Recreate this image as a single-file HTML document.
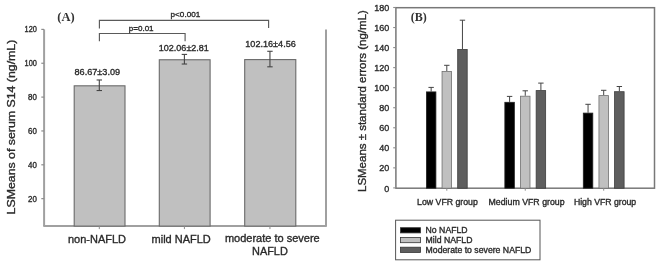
<!DOCTYPE html>
<html><head><meta charset="utf-8"><style>
html,body{margin:0;padding:0;background:#fff;width:660px;height:267px;overflow:hidden}
svg{display:block;font-family:"Liberation Sans",sans-serif;filter:blur(0.5px)}
text{stroke:#2a2a2a;stroke-width:0.35px}
</style></head><body>
<svg width="660" height="267" viewBox="0 0 660 267">
<rect width="660" height="267" fill="#fff"/>
<line x1="44.1" y1="29.40" x2="44.1" y2="226.1" stroke="#a0a0a0" stroke-width="2"/>
<line x1="43.3" y1="226.1" x2="326.8" y2="226.1" stroke="#a0a0a0" stroke-width="2"/>
<line x1="326" y1="29.40" x2="326" y2="226.1" stroke="#a0a0a0" stroke-width="2"/>
<line x1="41.3" y1="198.65" x2="44.1" y2="198.65" stroke="#8c8c8c" stroke-width="1.2"/>
<text x="28.10" y="201.55" font-size="8.2" fill="#2a2a2a" textLength="8.8" lengthAdjust="spacingAndGlyphs">20</text>
<line x1="41.3" y1="164.80" x2="44.1" y2="164.80" stroke="#8c8c8c" stroke-width="1.2"/>
<text x="28.10" y="167.70" font-size="8.2" fill="#2a2a2a" textLength="8.8" lengthAdjust="spacingAndGlyphs">40</text>
<line x1="41.3" y1="130.95" x2="44.1" y2="130.95" stroke="#8c8c8c" stroke-width="1.2"/>
<text x="28.10" y="133.85" font-size="8.2" fill="#2a2a2a" textLength="8.8" lengthAdjust="spacingAndGlyphs">60</text>
<line x1="41.3" y1="97.10" x2="44.1" y2="97.10" stroke="#8c8c8c" stroke-width="1.2"/>
<text x="28.10" y="100.00" font-size="8.2" fill="#2a2a2a" textLength="8.8" lengthAdjust="spacingAndGlyphs">80</text>
<line x1="41.3" y1="63.25" x2="44.1" y2="63.25" stroke="#8c8c8c" stroke-width="1.2"/>
<text x="24.60" y="66.15" font-size="8.2" fill="#2a2a2a" textLength="12.3" lengthAdjust="spacingAndGlyphs">100</text>
<line x1="41.3" y1="29.40" x2="44.1" y2="29.40" stroke="#8c8c8c" stroke-width="1.2"/>
<text x="24.60" y="32.30" font-size="8.2" fill="#2a2a2a" textLength="12.3" lengthAdjust="spacingAndGlyphs">120</text>
<rect x="74.2" y="85.81" width="50.8" height="140.29" fill="#c0c0c0" stroke="#6a6a6a" stroke-width="1.1"/>
<line x1="99.30" y1="79.98" x2="99.30" y2="90.54" stroke="#444" stroke-width="1.1"/>
<line x1="96.60" y1="79.98" x2="102.00" y2="79.98" stroke="#444" stroke-width="1.1"/>
<line x1="96.60" y1="90.54" x2="102.00" y2="90.54" stroke="#444" stroke-width="1.1"/>
<line x1="99.30" y1="226.1" x2="99.30" y2="229.1" stroke="#8c8c8c" stroke-width="1"/>
<rect x="159.3" y="59.76" width="50.8" height="166.34" fill="#c0c0c0" stroke="#6a6a6a" stroke-width="1.1"/>
<line x1="184.40" y1="54.41" x2="184.40" y2="64.02" stroke="#444" stroke-width="1.1"/>
<line x1="181.70" y1="54.41" x2="187.10" y2="54.41" stroke="#444" stroke-width="1.1"/>
<line x1="181.70" y1="64.02" x2="187.10" y2="64.02" stroke="#444" stroke-width="1.1"/>
<line x1="184.40" y1="226.1" x2="184.40" y2="229.1" stroke="#8c8c8c" stroke-width="1"/>
<rect x="244.7" y="59.59" width="51.1" height="166.51" fill="#c0c0c0" stroke="#6a6a6a" stroke-width="1.1"/>
<line x1="269.95" y1="51.28" x2="269.95" y2="66.81" stroke="#444" stroke-width="1.1"/>
<line x1="267.25" y1="51.28" x2="272.65" y2="51.28" stroke="#444" stroke-width="1.1"/>
<line x1="267.25" y1="66.81" x2="272.65" y2="66.81" stroke="#444" stroke-width="1.1"/>
<line x1="269.95" y1="226.1" x2="269.95" y2="229.1" stroke="#8c8c8c" stroke-width="1"/>
<text x="74.5" y="74.7" font-size="9.1" fill="#2e2e2e" textLength="45.6" lengthAdjust="spacingAndGlyphs">86.67±3.09</text>
<text x="158.8" y="50.6" font-size="9.1" fill="#2e2e2e" textLength="50.1" lengthAdjust="spacingAndGlyphs">102.06±2.81</text>
<text x="245.3" y="47.1" font-size="9.1" fill="#2e2e2e" textLength="50.5" lengthAdjust="spacingAndGlyphs">102.16±4.56</text>
<path d="M99.4 28.6 V20.4 H268.6 V28.0" fill="none" stroke="#5a5a5a" stroke-width="1.15"/>
<path d="M99.4 41.3 V33.5 H185.1 V41.2" fill="none" stroke="#5a5a5a" stroke-width="1.15"/>
<text x="170.6" y="17.3" font-size="8.0" fill="#2e2e2e" textLength="29.6" lengthAdjust="spacingAndGlyphs">p&lt;0.001</text>
<text x="128.8" y="30.8" font-size="8.0" fill="#2e2e2e" textLength="24.8" lengthAdjust="spacingAndGlyphs">p=0.01</text>
<text x="57.3" y="20.6" font-family="Liberation Serif" font-weight="bold" font-size="12.5" fill="#333" style="stroke:none">(A)</text>
<text x="68" y="243" font-size="11" fill="#2a2a2a" textLength="58" lengthAdjust="spacingAndGlyphs">non-NAFLD</text>
<text x="151.6" y="243" font-size="11" fill="#2a2a2a" textLength="59.2" lengthAdjust="spacingAndGlyphs">mild NAFLD</text>
<text x="224.9" y="242.3" font-size="11" fill="#2a2a2a" textLength="94.8" lengthAdjust="spacingAndGlyphs">moderate to severe</text>
<text x="252" y="254.5" font-size="11" fill="#2a2a2a" textLength="35.8" lengthAdjust="spacingAndGlyphs">NAFLD</text>
<text transform="translate(14.6 214.4) rotate(-90)" x="0" y="0" font-size="11.5" fill="#2a2a2a" textLength="174.7" lengthAdjust="spacingAndGlyphs">LSMeans of serum S14 (ng/mL)</text>
<rect x="395.9" y="7.7" width="258.6" height="180.5" fill="none" stroke="#787878" stroke-width="1.5"/>
<line x1="393.2" y1="187.90" x2="395.9" y2="187.90" stroke="#8c8c8c" stroke-width="1.1"/>
<text x="389.2" y="191.50" text-anchor="end" font-size="9" fill="#2a2a2a">0</text>
<line x1="393.2" y1="167.86" x2="395.9" y2="167.86" stroke="#8c8c8c" stroke-width="1.1"/>
<text x="389.2" y="171.46" text-anchor="end" font-size="9" fill="#2a2a2a">20</text>
<line x1="393.2" y1="147.81" x2="395.9" y2="147.81" stroke="#8c8c8c" stroke-width="1.1"/>
<text x="389.2" y="151.41" text-anchor="end" font-size="9" fill="#2a2a2a">40</text>
<line x1="393.2" y1="127.77" x2="395.9" y2="127.77" stroke="#8c8c8c" stroke-width="1.1"/>
<text x="389.2" y="131.37" text-anchor="end" font-size="9" fill="#2a2a2a">60</text>
<line x1="393.2" y1="107.72" x2="395.9" y2="107.72" stroke="#8c8c8c" stroke-width="1.1"/>
<text x="389.2" y="111.32" text-anchor="end" font-size="9" fill="#2a2a2a">80</text>
<line x1="393.2" y1="87.68" x2="395.9" y2="87.68" stroke="#8c8c8c" stroke-width="1.1"/>
<text x="389.2" y="91.28" text-anchor="end" font-size="9" fill="#2a2a2a">100</text>
<line x1="393.2" y1="67.63" x2="395.9" y2="67.63" stroke="#8c8c8c" stroke-width="1.1"/>
<text x="389.2" y="71.23" text-anchor="end" font-size="9" fill="#2a2a2a">120</text>
<line x1="393.2" y1="47.59" x2="395.9" y2="47.59" stroke="#8c8c8c" stroke-width="1.1"/>
<text x="389.2" y="51.19" text-anchor="end" font-size="9" fill="#2a2a2a">140</text>
<line x1="393.2" y1="27.54" x2="395.9" y2="27.54" stroke="#8c8c8c" stroke-width="1.1"/>
<text x="389.2" y="31.14" text-anchor="end" font-size="9" fill="#2a2a2a">160</text>
<line x1="393.2" y1="7.50" x2="395.9" y2="7.50" stroke="#8c8c8c" stroke-width="1.1"/>
<text x="389.2" y="11.10" text-anchor="end" font-size="9" fill="#2a2a2a">180</text>
<line x1="431.15" y1="87.4" x2="431.15" y2="91.5" stroke="#444" stroke-width="1"/>
<line x1="428.45" y1="87.4" x2="433.85" y2="87.4" stroke="#444" stroke-width="1"/>
<rect x="426.40" y="91.90" width="9.50" height="96.30" fill="#000000" stroke="#222" stroke-width="0.8"/>
<line x1="446.80" y1="65.3" x2="446.80" y2="71.0" stroke="#444" stroke-width="1"/>
<line x1="444.10" y1="65.3" x2="449.50" y2="65.3" stroke="#444" stroke-width="1"/>
<rect x="442.05" y="71.40" width="9.50" height="116.80" fill="#c0c0c0" stroke="#707070" stroke-width="0.8"/>
<line x1="462.45" y1="20.2" x2="462.45" y2="49.0" stroke="#444" stroke-width="1"/>
<line x1="459.75" y1="20.2" x2="465.15" y2="20.2" stroke="#444" stroke-width="1"/>
<rect x="457.70" y="49.40" width="9.50" height="138.80" fill="#5e5e5e" stroke="#3c3c3c" stroke-width="0.8"/>
<line x1="446.80" y1="188.2" x2="446.80" y2="190.7" stroke="#8c8c8c" stroke-width="1"/>
<line x1="509.60" y1="96.4" x2="509.60" y2="101.9" stroke="#444" stroke-width="1"/>
<line x1="506.90" y1="96.4" x2="512.30" y2="96.4" stroke="#444" stroke-width="1"/>
<rect x="504.85" y="102.30" width="9.50" height="85.90" fill="#000000" stroke="#222" stroke-width="0.8"/>
<line x1="525.25" y1="90.8" x2="525.25" y2="95.8" stroke="#444" stroke-width="1"/>
<line x1="522.55" y1="90.8" x2="527.95" y2="90.8" stroke="#444" stroke-width="1"/>
<rect x="520.50" y="96.20" width="9.50" height="92.00" fill="#c0c0c0" stroke="#707070" stroke-width="0.8"/>
<line x1="540.90" y1="83.1" x2="540.90" y2="90.2" stroke="#444" stroke-width="1"/>
<line x1="538.20" y1="83.1" x2="543.60" y2="83.1" stroke="#444" stroke-width="1"/>
<rect x="536.15" y="90.60" width="9.50" height="97.60" fill="#5e5e5e" stroke="#3c3c3c" stroke-width="0.8"/>
<line x1="525.25" y1="188.2" x2="525.25" y2="190.7" stroke="#8c8c8c" stroke-width="1"/>
<line x1="588.05" y1="104.3" x2="588.05" y2="112.7" stroke="#444" stroke-width="1"/>
<line x1="585.35" y1="104.3" x2="590.75" y2="104.3" stroke="#444" stroke-width="1"/>
<rect x="583.30" y="113.10" width="9.50" height="75.10" fill="#000000" stroke="#222" stroke-width="0.8"/>
<line x1="603.70" y1="90.3" x2="603.70" y2="95.2" stroke="#444" stroke-width="1"/>
<line x1="601.00" y1="90.3" x2="606.40" y2="90.3" stroke="#444" stroke-width="1"/>
<rect x="598.95" y="95.60" width="9.50" height="92.60" fill="#c0c0c0" stroke="#707070" stroke-width="0.8"/>
<line x1="619.35" y1="86.5" x2="619.35" y2="91.3" stroke="#444" stroke-width="1"/>
<line x1="616.65" y1="86.5" x2="622.05" y2="86.5" stroke="#444" stroke-width="1"/>
<rect x="614.60" y="91.70" width="9.50" height="96.50" fill="#5e5e5e" stroke="#3c3c3c" stroke-width="0.8"/>
<line x1="603.70" y1="188.2" x2="603.70" y2="190.7" stroke="#8c8c8c" stroke-width="1"/>
<text x="417.1" y="204.5" font-size="8.7" fill="#2a2a2a" textLength="60.7" lengthAdjust="spacingAndGlyphs">Low VFR group</text>
<text x="488.5" y="204.8" font-size="8.7" fill="#2a2a2a" textLength="76.1" lengthAdjust="spacingAndGlyphs">Medium VFR group</text>
<text x="573.9" y="204.7" font-size="8.7" fill="#2a2a2a" textLength="62.3" lengthAdjust="spacingAndGlyphs">High VFR group</text>
<text x="410.8" y="20.5" font-family="Liberation Serif" font-weight="bold" font-size="12" fill="#333" style="stroke:none">(B)</text>
<text transform="translate(365.6 192.0) rotate(-90)" x="0" y="0" font-size="11.4" fill="#2a2a2a" textLength="181.8" lengthAdjust="spacingAndGlyphs">LSMeans ± standard errors (ng/mL)</text>
<rect x="395.6" y="220.2" width="144.4" height="39.6" fill="none" stroke="#555" stroke-width="1"/>
<rect x="400.5" y="227.7" width="20" height="5.2" fill="#000" stroke="#333" stroke-width="0.8"/>
<text x="425.6" y="233.2" font-size="8.7" fill="#2a2a2a">No NAFLD</text>
<rect x="400.5" y="237.5" width="20" height="5.2" fill="#c0c0c0" stroke="#333" stroke-width="0.8"/>
<text x="425.6" y="243.1" font-size="8.7" fill="#2a2a2a">Mild NAFLD</text>
<rect x="400.5" y="247.2" width="20" height="5.2" fill="#5e5e5e" stroke="#333" stroke-width="0.8"/>
<text x="425.6" y="252.8" font-size="8.7" fill="#2a2a2a">Moderate to severe NAFLD</text>
</svg>
</body></html>
